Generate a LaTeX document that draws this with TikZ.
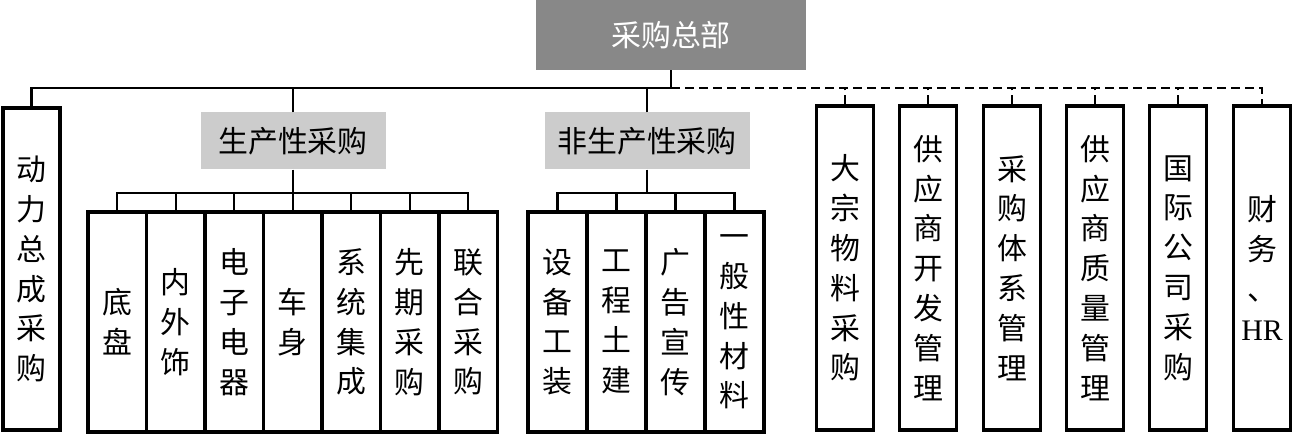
\documentclass[tikz,border=0pt]{standalone}
\usepackage{fontspec}
\setmainfont{Liberation Serif}
\newfontfamily\cjk{Noto Sans CJK SC}
\definecolor{topgray}{RGB}{136,136,136}
\definecolor{lblgray}{RGB}{204,204,204}
\begin{document}
\begin{tikzpicture}[x=1bp,y=-1bp,
  conn/.style={line width=2.2bp},
  dconn/.style={line width=2.2bp,dash pattern=on 9bp off 5bp},
  col/.style={draw,line width=3.2bp,minimum width=58.5bp,minimum height=220bp,inner sep=0pt,align=center,
    font=\cjk\fontsize{30}{40}\selectfont},
  tall/.style={draw,line width=3.2bp,minimum width=57bp,minimum height=324bp,inner sep=0pt,align=center,
    font=\cjk\fontsize{30}{40}\selectfont},
  lbl/.style={fill=lblgray,minimum height=57bp,inner sep=0pt,font=\cjk\fontsize{30}{35}\selectfont}]
\useasboundingbox (0,0) rectangle (1294,437);
% top
\node[fill=topgray,text=white,minimum width=270bp,minimum height=70bp,inner sep=0pt,
  font=\cjk\fontsize{30}{35}\selectfont] (top) at (671,35) {采购总部};
\coordinate (bus) at (671,88);
% left tall box
\node[tall,minimum height=322bp] (dl) at (31.5,269) {动\\力\\总\\成\\采\\购};
% labels
\node[lbl,minimum width=185bp] (sc) at (293,141) {生产性采购};
\node[lbl,minimum width=205bp] (fsc) at (647,141) {非生产性采购};
% production columns
\node[col] (c1) at (117.25,322) {底\\盘};
\node[col] (c2) at (175.75,322) {内\\外\\饰};
\node[col] (c3) at (234.25,322) {电\\子\\电\\器};
\node[col] (c4) at (292.75,322) {车\\身};
\node[col] (c5) at (351.25,322) {系\\统\\集\\成};
\node[col] (c6) at (409.75,322) {先\\期\\采\\购};
\node[col] (c7) at (468.25,322) {联\\合\\采\\购};
% non-production columns
\node[col,minimum width=59bp] (n1) at (557.5,322) {设\\备\\工\\装};
\node[col,minimum width=59bp] (n2) at (616.5,322) {工\\程\\土\\建};
\node[col,minimum width=59bp] (n3) at (675.5,322) {广\\告\\宣\\传};
\node[col,minimum width=59bp] (n4) at (734.5,322) {一\\般\\性\\材\\料};
% right boxes
\node[tall] (r1) at (845,268) {大\\宗\\物\\料\\采\\购};
\node[tall] (r2) at (928,268) {供\\应\\商\\开\\发\\管\\理};
\node[tall] (r3) at (1012,268) {采\\购\\体\\系\\管\\理};
\node[tall] (r4) at (1095,268) {供\\应\\商\\质\\量\\管\\理};
\node[tall] (r5) at (1178,268) {国\\际\\公\\司\\采\\购};
\node[tall] (r6) at (1262,268) {财\\务\\、\\{\rmfamily HR}};
% connectors
\draw[conn] (top.south) -- (bus);
\draw[conn] (dl.north) |- (bus);
\draw[conn] (sc.north) -- (sc.north |- bus);
\draw[conn] (fsc.north) -- (fsc.north |- bus);
\draw[dconn] (bus) -| (r6.north);
\foreach \r in {r1,r2,r3,r4,r5}{\draw[dconn] (\r.north) -- (\r.north |- bus);}
% production sub-bus
\coordinate (sb1) at (293,193);
\draw[conn] (sc.south) -- (sb1);
\draw[conn] (c1.north) |- (sb1);
\draw[conn] (c7.north) |- (sb1);
\foreach \c in {c2,c3,c4,c5,c6}{\draw[conn] (\c.north) -- (\c.north |- sb1);}
% non-production sub-bus
\coordinate (sb2) at (647,193);
\draw[conn] (fsc.south) -- (sb2);
\draw[conn] (n1.north) |- (sb2);
\draw[conn] (n4.north) |- (sb2);
\foreach \c in {n2,n3}{\draw[conn] (\c.north) -- (\c.north |- sb2);}
\end{tikzpicture}
\end{document}
